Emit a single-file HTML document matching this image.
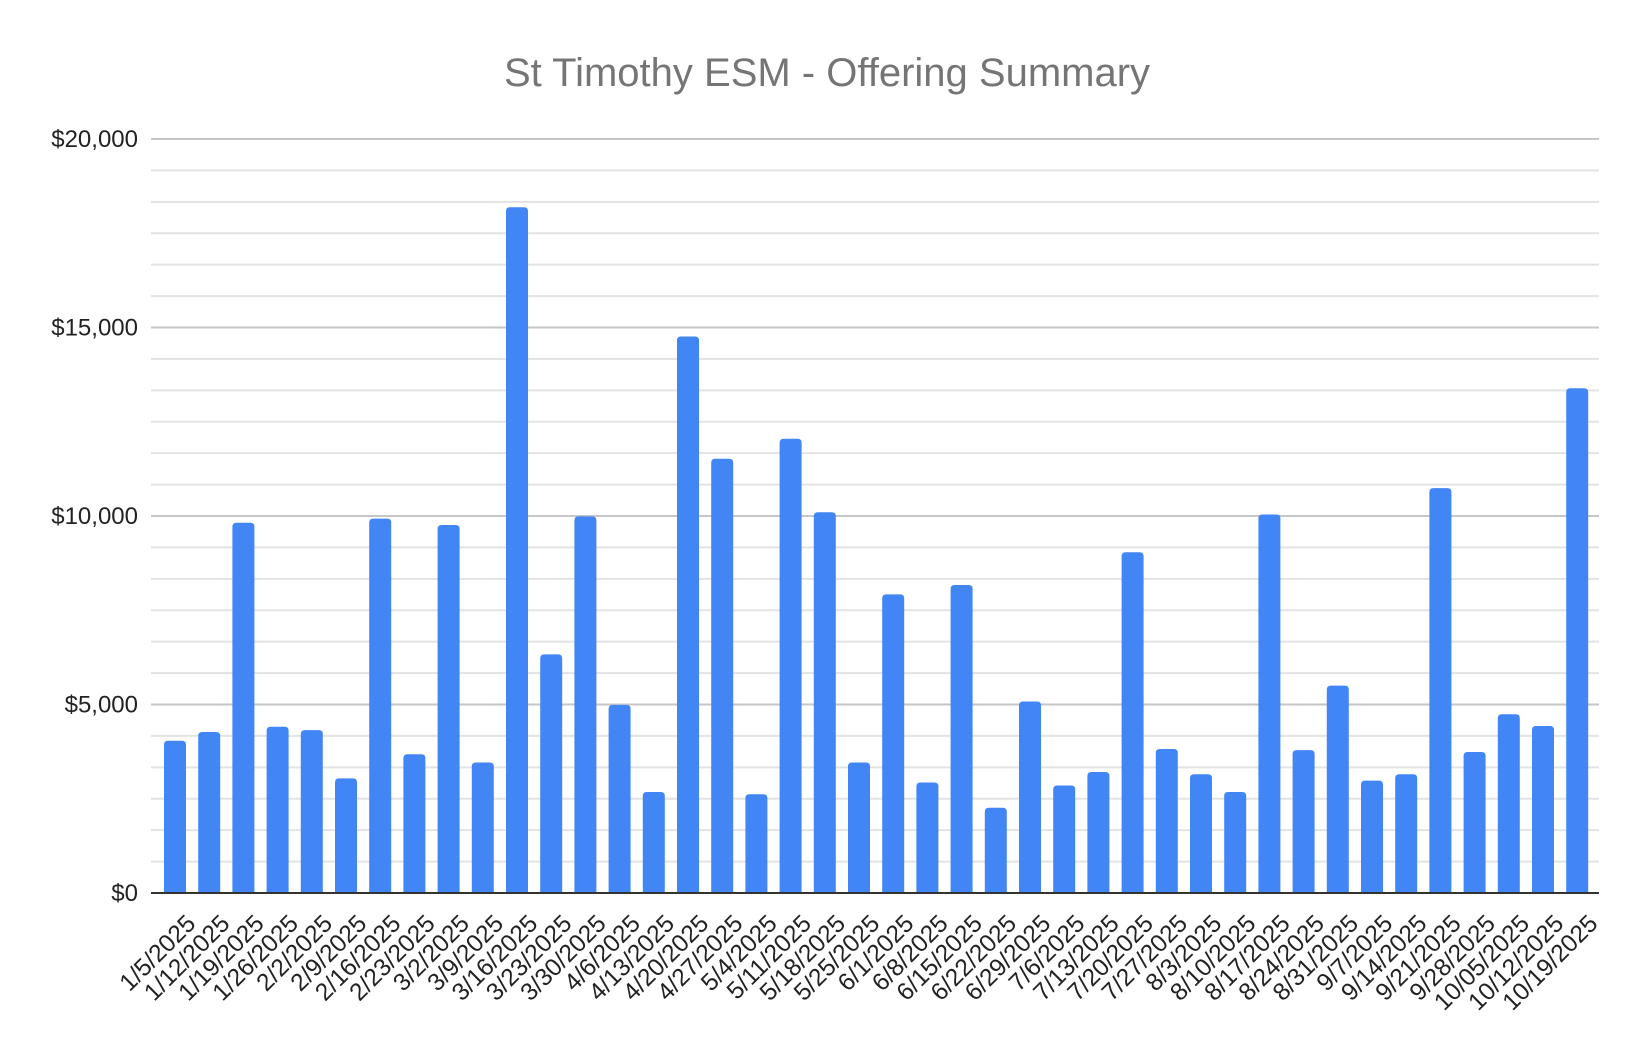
<!DOCTYPE html>
<html><head><meta charset="utf-8"><style>
html,body{margin:0;padding:0;background:#fff;}
svg{display:block;font-family:"Liberation Sans",Arial,sans-serif;}
</style></head><body>
<svg id="c" width="1652" height="1052" xmlns="http://www.w3.org/2000/svg">
<text x="827" y="86" text-anchor="middle" font-size="40" fill="#757575">St Timothy ESM - Offering Summary</text>
<g id="grid"></g>
<g id="bars"></g>
<g id="lab"></g>
</svg>
<script>
const vals=[4.04,4.27,9.82,4.41,4.32,3.04,9.93,3.68,9.76,3.46,18.19,6.33,9.99,4.99,2.68,14.76,11.52,2.62,12.05,10.10,3.46,7.92,2.93,8.17,2.26,5.08,2.85,3.21,9.04,3.82,3.15,2.68,10.04,3.79,5.50,2.98,3.15,10.74,3.74,4.74,4.43,13.39];
const labs=["1/5/2025","1/12/2025","1/19/2025","1/26/2025","2/2/2025","2/9/2025","2/16/2025","2/23/2025","3/2/2025","3/9/2025","3/16/2025","3/23/2025","3/30/2025","4/6/2025","4/13/2025","4/20/2025","4/27/2025","5/4/2025","5/11/2025","5/18/2025","5/25/2025","6/1/2025","6/8/2025","6/15/2025","6/22/2025","6/29/2025","7/6/2025","7/13/2025","7/20/2025","7/27/2025","8/3/2025","8/10/2025","8/17/2025","8/24/2025","8/31/2025","9/7/2025","9/14/2025","9/21/2025","9/28/2025","10/05/2025","10/12/2025","10/19/2025"];
const NS="http://www.w3.org/2000/svg";
const y0=893, ppk=37.7, L=151, R=1599;
function el(t,a,p,txt){const e=document.createElementNS(NS,t);for(const k in a)e.setAttribute(k,a[k]);if(txt)e.textContent=txt;document.getElementById(p).appendChild(e);}
for(let i=1;i<=24;i++){const y=y0-i*(20/24)*ppk;const major=i%6==0;
el('line',{x1:L,x2:R,y1:y,y2:y,stroke:major?'#c6c6c6':'#e3e3e3','stroke-width':2},'grid');}
for(let i=0;i<=4;i++){el('text',{x:138,y:y0-i*5*ppk+8,'text-anchor':'end','font-size':24,fill:'#222'},'grid',i==0?'$0':'$'+(i*5)+',000');}
vals.forEach((v,i)=>{const x=164+i*34.2;const h=v*ppk;
el('path',{d:`M${x},${y0}V${y0-h+4}Q${x},${y0-h} ${x+4},${y0-h}H${x+18}Q${x+22},${y0-h} ${x+22},${y0-h+4}V${y0}Z`,fill:'#4285f4'},'bars');
const cx=x+11+22, cy=925;
el('text',{x:cx,y:cy,'text-anchor':'end','font-size':24.5,fill:'#222',transform:`rotate(-45 ${cx} ${cy})`},'lab',labs[i]);});
el('line',{x1:L,x2:R,y1:y0,y2:y0,stroke:'#333','stroke-width':2},'bars');
</script>
</body></html>
